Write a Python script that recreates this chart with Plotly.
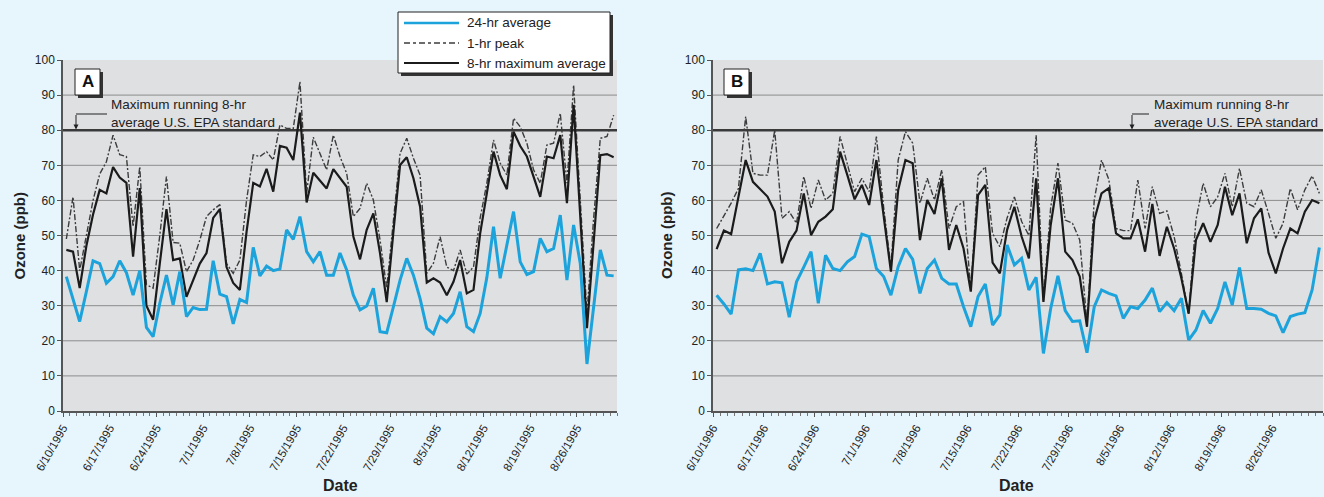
import plotly.graph_objects as go
import pandas as pd

W, H = 1324, 497

# ---------------- data (ppb) ----------------
start_a = "1995-06-10"
start_b = "1996-06-10"

avg24_a = [38.3, 32, 25.5, 34, 42.8, 42, 36.4, 38.3, 42.8, 39.4, 33, 40, 23.8, 21.2, 30.7, 38.7, 30.2,
           39.7, 26.9, 29.5, 28.9, 29, 42.8, 33.3, 32.6, 24.8, 31.8, 30.9, 46.6, 38.5, 41.3, 40, 40.5,
           51.6, 48.9, 55.4, 45.4, 42.5, 45.4, 38.7, 38.7, 45, 40.2, 33, 28.8, 29.9, 35, 22.6, 22.3,
           29.7, 37.3, 43.5, 38.7, 32, 23.6, 22, 26.9, 25.4, 27.8, 34, 24, 22.6, 27.8, 38, 52.5, 37.8,
           47.3, 56.8, 42.5, 38.9, 39.7, 49.2, 45.4, 46.3, 55.8, 37.3, 53, 42, 13.4, 29.7, 45.9, 38.7, 38.5]
peak1_a = [49, 61, 40, 50, 60, 67.5, 71, 78.6, 73, 72.5, 52.5, 69.6, 36, 35, 50, 66.8, 48, 47.8, 39.7,
           43, 48.7, 55.4, 57.3, 58.8, 42, 39.2, 43, 60, 73, 72.5, 73.9, 71.5, 81.5, 80.5, 80.5, 93.8,
           62, 78, 73.4, 68.7, 78.6, 72.5, 67.7, 55.4, 57.7, 64.9, 60.1, 48.7, 35, 55, 73.4, 77.7, 72,
           67.2, 39.2, 42.1, 49.7, 41, 40, 45.9, 39, 41, 55, 64.9, 77.2, 70.6, 67.2, 83.4, 81, 76.3,
           68.7, 64.9, 75.8, 76.3, 84.8, 64.9, 92.9, 60, 27.8, 55, 77.7, 78.2, 84.3]
max8_a = [45.9, 45.4, 35, 47, 56, 63, 62, 69.5, 66.5, 65, 44, 63.5, 30, 26, 42, 57.5, 43, 43.5, 32.5,
          37, 42, 45, 55, 57.5, 41, 36.5, 34.5, 51, 65, 64, 69, 62.5, 75.5, 75, 71.5, 85, 59.4, 67.9,
          65.8, 63.4, 68.9, 66.3, 63.9, 49.7, 43.2, 51.6, 56.3, 44.9, 31, 51, 70.1, 72.3, 66.3, 58.2,
          36.6, 37.8, 36.6, 33, 36.8, 43, 33.5, 34.5, 50.6, 62, 73.9, 67.2, 63.2, 79.6, 75.5, 72.5,
          66.8, 61, 72.5, 72, 78.6, 59.2, 87.2, 55, 23.6, 48, 72.9, 73.2, 72.3]

avg24_b = [33, 30.5, 27.6, 40.2, 40.5, 40, 44.9, 36.2, 36.8, 36.5, 26.7, 36.8, 41, 45.4, 30.7, 44.4,
           40.6, 40, 42.5, 44, 50.4, 49.7, 40.6, 38.3, 33, 41.1, 46.3, 43.2, 33.5, 40.6, 43, 37.8,
           36.2, 36.2, 29.7, 24, 32.6, 36.2, 24.5, 27.4, 47.3, 41.6, 43.5, 34.5, 38.1, 16.4, 29.2,
           38.5, 28.6, 25.5, 25.7, 16.6, 29.7, 34.5, 33.5, 32.8, 26.4, 29.7, 29.2, 31.6, 35, 28.3,
           30.9, 28.6, 32.1, 20.2, 23.1, 28.6, 25, 29.2, 36.8, 30.2, 40.9, 29.2, 29.2, 29, 27.8,
           27.1, 22.3, 26.9, 27.6, 28, 34.5, 46.6]
peak1_b = [52, 55.4, 59.2, 63.4, 83.9, 67.7, 67.2, 67.2, 80, 54.9, 56.8, 53.5, 66.8, 57.7, 65.8,
           60.1, 62, 78.2, 70, 62.5, 66.3, 62.5, 78.2, 58, 41, 71.5, 79.6, 76.3, 59.2, 66.3, 60.1,
           68.7, 52, 58.2, 59.6, 34.5, 67.2, 69.6, 50.6, 46.8, 55, 61, 54, 50, 78.6, 31.6, 58, 70.6,
           54.4, 53.5, 48.7, 25, 60.1, 71.5, 66, 52, 51.4, 51.4, 65.8, 52, 63.9, 56.3, 57, 49.7,
           39.2, 27.4, 54.4, 64.9, 58.2, 61, 67.7, 58.2, 69.1, 59.2, 58.2, 63, 56.3, 49.2, 53.5,
           63.4, 57.3, 63, 67, 62]
max8_b = [46.1, 51.4, 50.4, 61, 71.5, 65.3, 63.2, 61.1, 56.8, 42.1, 48.2, 51.4, 62, 50.1, 53.9,
          55.4, 57.5, 73.9, 67.2, 60.3, 64.4, 58.7, 71.5, 55, 39.7, 63, 71.5, 70.6, 48.7, 60.1,
          56.1, 66.3, 45.9, 53, 46.3, 34, 61.5, 64.4, 42.3, 39.2, 51.6, 58.2, 49.7, 43.5, 66.3,
          31.1, 53, 66.3, 45.4, 43, 38.3, 24, 54.4, 62, 63.5, 50.6, 49.2, 49.2, 54.6, 45.4, 59,
          44.2, 52.5, 46.3, 37.8, 27.8, 48.7, 53.5, 48.2, 53, 63.9, 55.8, 62, 47.8, 54.9, 57.7,
          45.1, 39.2, 46.3, 52, 50.6, 56.8, 60.1, 59.2]

y_ticks = [0, 10, 20, 30, 40, 50, 60, 70, 80, 90, 100]
epa_standard = 80
tick_labels_a = ["6/10/1995", "6/17/1995", "6/24/1995", "7/1/1995", "7/8/1995", "7/15/1995",
                 "7/22/1995", "7/29/1995", "8/5/1995", "8/12/1995", "8/19/1995", "8/26/1995"]
tick_labels_b = ["6/10/1996", "6/17/1996", "6/24/1996", "7/1/1996", "7/8/1996", "7/15/1996",
                 "7/22/1996", "7/29/1996", "8/5/1996", "8/12/1996", "8/19/1996", "8/26/1996"]
series_names = ["24-hr average", "1-hr peak", "8-hr maximum average"]

# ---------------- styles ----------------
BLUE = "#1ca3dc"
BLACK = "#1b1b1b"
DASH_C = "#3c3c3c"
DASH = "6px,2px,2px,2px"
PAGE_BG = "#e7f5fc"
PLOT_BG = "#dfe0e2"
GRID = "#8c8c8c"
FONT = "Liberation Sans, Arial, sans-serif"


def px(x):
    return x / W


def py(y):
    return 1 - y / H


dates_a = pd.date_range(start_a, periods=len(avg24_a), freq="D")
dates_b = pd.date_range(start_b, periods=len(avg24_b), freq="D")
half = pd.Timedelta(hours=12)

fig = go.Figure()


def add_panel(dates, a24, p1, m8, xa, ya):
    fig.add_trace(go.Scatter(x=dates, y=p1, mode="lines", name=series_names[1],
                             line=dict(color=DASH_C, width=1.4, dash=DASH),
                             xaxis=xa, yaxis=ya, showlegend=False))
    fig.add_trace(go.Scatter(x=dates, y=m8, mode="lines", name=series_names[2],
                             line=dict(color=BLACK, width=2.2),
                             xaxis=xa, yaxis=ya, showlegend=False))
    fig.add_trace(go.Scatter(x=dates, y=a24, mode="lines", name=series_names[0],
                             line=dict(color=BLUE, width=3),
                             xaxis=xa, yaxis=ya, showlegend=False))


add_panel(dates_a, avg24_a, peak1_a, max8_a, "x", "y")
add_panel(dates_b, avg24_b, peak1_b, max8_b, "x2", "y2")

ydom = [py(411), py(60)]


def xaxis_cfg(dates, labels, dom):
    ticks = pd.date_range(dates[0], periods=len(labels), freq="7D") - half
    return dict(
        type="date", domain=dom, automargin=False,
        range=[dates[0] - half, dates[-1] + half],
        tickvals=list(ticks), ticktext=labels, tickangle=-60,
        tickfont=dict(family=FONT, size=11.5, color="#222"),
        ticks="outside", ticklen=4, tickcolor="#555",
        minor=dict(dtick=86400000, tick0=str(dates[0] - half), ticks="outside",
                   ticklen=3, tickcolor="#777", showgrid=False),
        showline=True, linecolor="#555", linewidth=1.5,
        showgrid=False, zeroline=False, fixedrange=True,
    )


def yaxis_cfg(anchor):
    return dict(
        domain=ydom, range=[0, 100], tickvals=y_ticks, automargin=False,
        tickfont=dict(family=FONT, size=12, color="#222"),
        ticks="outside", ticklen=4, tickcolor="#555",
        showline=True, linecolor="#555", linewidth=1.5,
        showgrid=False, zeroline=False, anchor=anchor, fixedrange=True,
    )


fig.update_layout(
    width=W, height=H, margin=dict(l=0, r=0, t=0, b=0, pad=0, autoexpand=False),
    paper_bgcolor=PAGE_BG, plot_bgcolor=PLOT_BG, showlegend=False,
    xaxis=xaxis_cfg(dates_a, tick_labels_a, [px(63), px(617)]) | dict(anchor="y"),
    xaxis2=xaxis_cfg(dates_b, tick_labels_b, [px(713), px(1323)]) | dict(anchor="y2"),
    yaxis=yaxis_cfg("x"),
    yaxis2=yaxis_cfg("x2"),
)

shapes = []
annotations = []

# gridlines and the EPA standard line
for xr, yr in (("x", "y"), ("x2", "y2")):
    for v in y_ticks[1:-1]:
        if v == epa_standard:
            continue
        shapes.append(dict(type="line", xref=f"{xr} domain", yref=yr, x0=0, x1=1, y0=v, y1=v,
                           line=dict(color=GRID, width=1), layer="below"))
    shapes.append(dict(type="line", xref=f"{xr} domain", yref=yr, x0=0, x1=1,
                       y0=epa_standard, y1=epa_standard,
                       line=dict(color="#3a3a3a", width=2.5), layer="below"))

# EPA annotation text + bracket arrows
ann_text = "Maximum running 8-hr<br>average U.S. EPA standard"
for (arrow_x, bracket_end, text_x) in ((76, 107, 109), (1132, 1149, 1152)):
    shapes.append(dict(type="line", xref="paper", yref="paper",
                       x0=px(arrow_x), x1=px(bracket_end), y0=py(114), y1=py(114),
                       line=dict(color="#222", width=1)))
    annotations.append(dict(xref="paper", yref="paper", x=px(arrow_x), y=py(129.5),
                            ax=0, ay=-16, axref="pixel", ayref="pixel", text="",
                            showarrow=True, arrowhead=2, arrowsize=1, arrowwidth=1,
                            arrowcolor="#222"))
    annotations.append(dict(xref="paper", yref="paper", x=px(text_x), y=py(113.5),
                            xanchor="left", yanchor="middle", align="left", showarrow=False,
                            text=ann_text, font=dict(family=FONT, size=13.5, color="#222")))

# Panel labels with shadowed boxes
for label, x0 in (("A", 75), ("B", 724)):
    shapes.append(dict(type="rect", xref="paper", yref="paper",
                       x0=px(x0 + 3), x1=px(x0 + 28), y0=py(98), y1=py(72),
                       fillcolor="#333", line=dict(width=0)))
    shapes.append(dict(type="rect", xref="paper", yref="paper",
                       x0=px(x0), x1=px(x0 + 25), y0=py(95), y1=py(69),
                       fillcolor="white", line=dict(color="#222", width=1)))
    annotations.append(dict(xref="paper", yref="paper", x=px(x0 + 12.5), y=py(82),
                            xanchor="center", yanchor="middle", showarrow=False,
                            text=f"<b>{label}</b>",
                            font=dict(family=FONT, size=17, color="#111")))

# Legend (manual, with shadow)
lx0, lx1, ly0, ly1 = 398, 610, 12, 73
shapes.append(dict(type="rect", xref="paper", yref="paper",
                   x0=px(lx0 + 3), x1=px(lx1 + 3), y0=py(ly1 + 3), y1=py(ly0 + 3),
                   fillcolor="#333", line=dict(width=0)))
shapes.append(dict(type="rect", xref="paper", yref="paper",
                   x0=px(lx0), x1=px(lx1), y0=py(ly1), y1=py(ly0),
                   fillcolor="white", line=dict(color="#222", width=1)))
legend_styles = [dict(color=BLUE, width=2.5), dict(color=DASH_C, width=1.3, dash="6px,3px,3px,3px"),
                 dict(color=BLACK, width=2)]
for k, (name, st) in enumerate(zip(series_names, legend_styles)):
    yy = 23 + 20 * k
    shapes.append(dict(type="line", xref="paper", yref="paper",
                       x0=px(404), x1=px(459), y0=py(yy), y1=py(yy), line=st))
    annotations.append(dict(xref="paper", yref="paper", x=px(465), y=py(yy),
                            xanchor="left", yanchor="middle", showarrow=False, text=name,
                            font=dict(family=FONT, size=13.5, color="#222")))

# Axis titles
for cx in (18.5, 666):
    annotations.append(dict(xref="paper", yref="paper", x=px(cx), y=py(236),
                            xanchor="center", yanchor="middle", showarrow=False, textangle=-90,
                            text="<b>Ozone (ppb)</b>",
                            font=dict(family=FONT, size=15, color="#222")))
for cx in (340, 1016):
    annotations.append(dict(xref="paper", yref="paper", x=px(cx), y=py(485),
                            xanchor="center", yanchor="middle", showarrow=False,
                            text="<b>Date</b>", font=dict(family=FONT, size=16, color="#222")))

fig.update_layout(shapes=shapes, annotations=annotations)
fig.write_html("out.html", config={"displayModeBar": False},
               post_script="document.body.style.margin='0';document.body.style.background='%s';" % PAGE_BG)
